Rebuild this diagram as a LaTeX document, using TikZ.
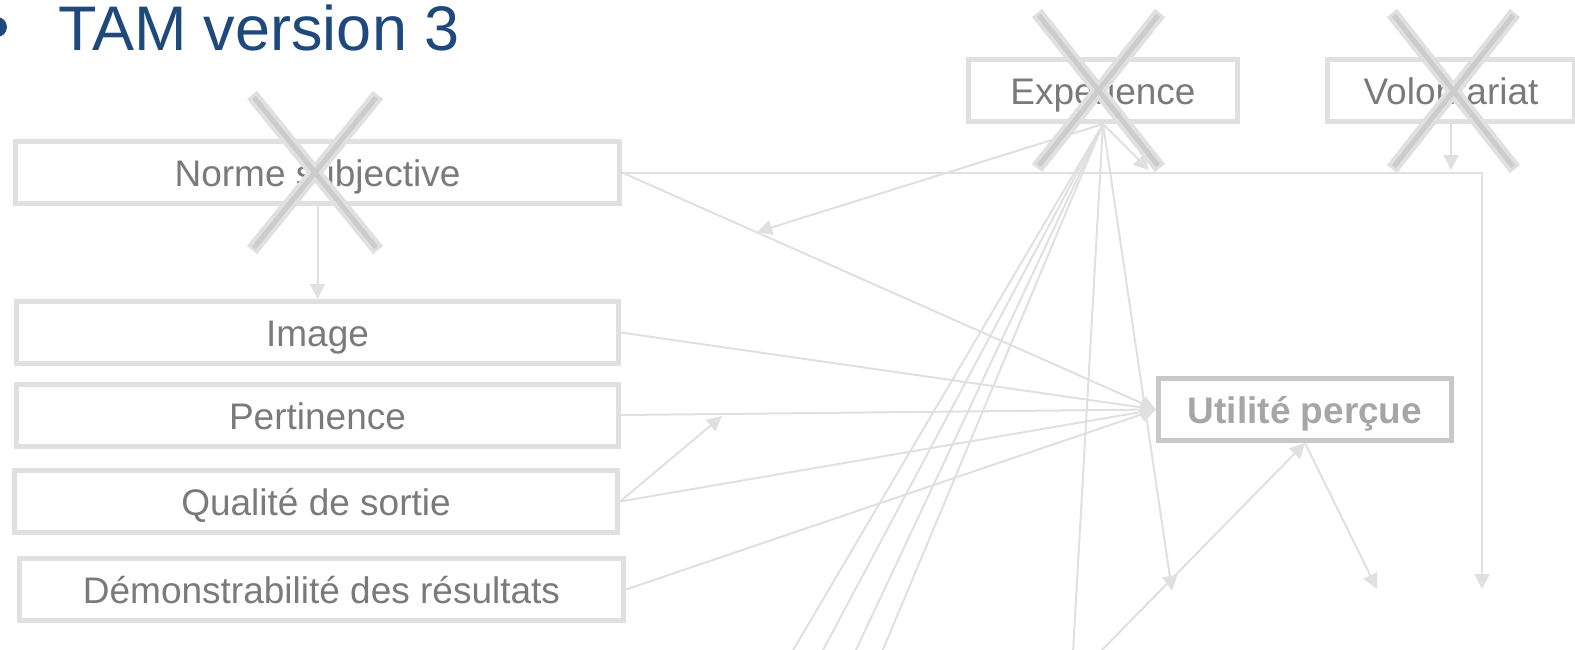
\documentclass[tikz,border=0pt]{standalone}
\usepackage{fontspec}
\setmainfont{Liberation Sans}
\usetikzlibrary{arrows.meta}
\definecolor{lineg}{RGB}{224,224,224}
\definecolor{boxg}{RGB}{224,224,224}
\definecolor{txtg}{RGB}{122,122,122}
\definecolor{crossgray}{RGB}{204,204,204}
\definecolor{titleblue}{RGB}{31,73,125}
\definecolor{upborder}{RGB}{200,200,200}
\definecolor{uptext}{RGB}{166,166,166}
\begin{document}
\begin{tikzpicture}[x=1pt,y=-1pt,
  box/.style={draw=boxg, line width=5pt, rectangle, minimum height=62pt, inner sep=0pt,
    text=txtg, text height=34pt, text depth=6pt, font=\fontsize{37pt}{40pt}\selectfont},
  conn/.style={draw=lineg, line width=2pt},
  arr/.style={conn, -{Triangle[length=15pt,width=15pt]}},
  crossout/.style={draw=boxg, line width=13pt},
  crossinner/.style={draw=crossgray, line width=5pt, shorten >=3pt, shorten <=3pt}]
\useasboundingbox (0,0) rectangle (1575,649);
% title
\fill[titleblue] (-3,27) circle (10pt);
\node[anchor=base west, inner sep=0pt, text=titleblue, font=\fontsize{63pt}{70pt}\selectfont] (title) at (58,50) {TAM version 3};
% boxes
\node[box, minimum width=604pt] (ns) at (317.5,172.5) {Norme subjective};
\node[box, minimum width=602pt] (img) at (317.5,332.5) {Image};
\node[box, minimum width=602pt] (pert) at (317.5,415) {Pertinence};
\node[box, minimum width=603pt] (qual) at (316,501.5) {Qualité de sortie};
\node[box, minimum width=604pt] (dem) at (321.5,589.5) {Démonstrabilité des résultats};
\node[box, minimum width=269pt] (exp) at (1103,90.5) {Experience};
\node[box, minimum width=247pt] (vol) at (1451,90.5) {Volontariat};
\node[box, draw=upborder, text=uptext, font=\bfseries\fontsize{37pt}{40pt}\selectfont, minimum width=293pt] (up) at (1305,409.5) {Utilité perçue};
% free ends
\coordinate (hend) at (1482,589);
\coordinate (q1) at (722,416);
\coordinate (e1) at (757,232);
\coordinate (e2) at (1149,170);
\coordinate (e3) at (1172,591);
\coordinate (b1) at (792,652);
\coordinate (b2) at (822,652);
\coordinate (b3) at (855,652);
\coordinate (b4) at (882,652);
\coordinate (b5) at (1073,652);
\coordinate (b6) at (1100,652);
\coordinate (v1) at (1451,170);
\coordinate (u1) at (1377,589);
% connectors
\draw[arr] (ns.south) -- (img.north);
\draw[arr] (ns.east) -- (ns.east -| hend) -- (hend);
\draw[arr] (ns.east) -- (up.west);
\draw[arr] (img.east) -- (up.west);
\draw[arr] (pert.east) -- (up.west);
\draw[arr] (qual.east) -- (up.west);
\draw[arr] (dem.east) -- (up.west);
\draw[arr] (qual.east) -- (q1);
\draw[arr] (exp.south) -- (e1);
\draw[arr] (exp.south) -- (e2);
\draw[arr] (exp.south) -- (e3);
\draw[conn] (exp.south) -- (b1);
\draw[conn] (exp.south) -- (b2);
\draw[conn] (exp.south) -- (b3);
\draw[conn] (exp.south) -- (b4);
\draw[conn] (exp.south) -- (b5);
\draw[arr] (vol.south) -- (v1);
\draw[arr] (b6) -- (up.south);
\draw[arr] (up.south) -- (u1);
% crosses
\draw[crossout] (252,95) -- (378,250);
\draw[crossout] (378,95) -- (252,250);
\draw[crossinner] (252,95) -- (378,250);
\draw[crossinner] (378,95) -- (252,250);
\draw[crossout] (1037,13) -- (1160,168);
\draw[crossout] (1160,13) -- (1037,168);
\draw[crossinner] (1037,13) -- (1160,168);
\draw[crossinner] (1160,13) -- (1037,168);
\draw[crossout] (1392,13) -- (1515,169);
\draw[crossout] (1515,13) -- (1392,169);
\draw[crossinner] (1392,13) -- (1515,169);
\draw[crossinner] (1515,13) -- (1392,169);
\end{tikzpicture}
\end{document}
